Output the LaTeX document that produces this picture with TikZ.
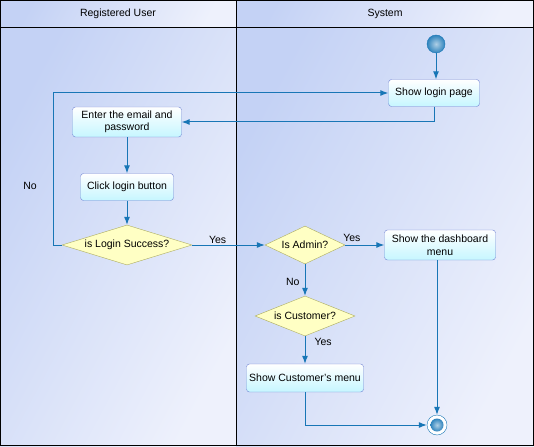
\documentclass[tikz,border=0pt]{standalone}
\usepackage{fontspec}
\setmainfont{Liberation Sans}
\usetikzlibrary{arrows.meta,positioning,shapes.geometric}

\definecolor{flowblue}{RGB}{24,118,182}
\definecolor{boxline}{RGB}{112,132,212}
\definecolor{boxfill}{RGB}{198,246,255}
\definecolor{decfill}{RGB}{255,255,196}
\definecolor{decline}{RGB}{172,172,96}
\definecolor{laneA}{RGB}{196,210,245}
\definecolor{laneB}{RGB}{238,241,252}

\tikzset{
  every node/.style={font=\fontsize{10.5}{12.5}\selectfont},
  activity/.style={draw=boxline,rounded corners=3pt,top color=white,bottom color=boxfill,
                   align=center,inner sep=2pt},
  decision/.style={diamond,draw=decline,fill=decfill,inner sep=0pt},
  ball/.style={circle,shading=radial,inner color=flowblue!35!white,outer color=flowblue!90,inner sep=0pt},
  startstate/.style={ball,draw=flowblue,minimum size=18pt},
  endouter/.style={circle,draw=flowblue,fill=white,minimum size=20pt,inner sep=0pt},
  endinner/.style={ball,minimum size=13pt},
  flow/.style={->,draw=flowblue,line width=1pt},
  lbl/.style={inner sep=1pt},
  lane/.style={left color=laneA,right color=laneB,shading angle=62},
}

\begin{document}
\begin{tikzpicture}[x=1pt,y=-1pt,>={Latex[length=8pt,width=6pt]},node distance=60pt,on grid]
\useasboundingbox (0,0) rectangle (534,446);
% swimlanes
\shade[lane] (0,0) rectangle (236,28);
\shade[lane] (236,0) rectangle (534,28);
\shade[lane] (0,28) rectangle (236,446);
\shade[lane] (236,28) rectangle (534,446);
\draw[line width=1pt] (0.5,0.5) rectangle (533.5,445.5);
\draw[line width=1pt] (0,28) -- (534,28) (236,0) -- (236,446);
\node (LaneUser) at (118,14) {Registered User};
\node (LaneSys)  at (385,14) {System};

\node[startstate]                              (Start)  at (436,44) {};
\node[activity,minimum width=91pt,minimum height=27pt] (Login) at (434,93) {Show login page};
\node[activity,minimum width=109pt,minimum height=30pt] (Email) at (127,122) {Enter the email and\\password};
\node[activity,minimum width=93pt,minimum height=27pt]  (Click) [below=65pt of Email] {Click login button};
\node[decision,aspect=3.25,minimum width=130pt,minimum height=40pt] (Success) [below=123pt of Email] {is Login Success?};
\node[decision,aspect=2.1,minimum width=80pt,minimum height=38pt]  (Admin) [right=178pt of Success] {Is Admin?};
\node[activity,minimum width=111pt,minimum height=30pt] (Dash) [right=135pt of Admin] {Show the dashboard\\menu};
\node[decision,aspect=2.5,minimum width=100pt,minimum height=40pt] (Customer) [below=71pt of Admin] {is Customer?};
\node[activity,minimum width=117pt,minimum height=28pt] (CustMenu) [below=62pt of Customer] {Show Customer's menu};
\node[endouter]                                (End) at (437,425) {};
\node[endinner]                                (EndDot) at (End) {};

\draw[flow] (Start) -- (Start |- Login.north);
\draw[flow] (Login.south) |- (Email.east);
\draw[flow] (Email) -- (Click);
\draw[flow] (Click) -- (Success);
\draw[flow] (Success.west) -- ++(-8,0) |- (Login.west);
\node[lbl] (NoLogin) at (30,186) {No};
\draw[flow] (Success.east) -- node[lbl,pos=0.35,above] (YesLogin) {Yes} (Admin.west);
\draw[flow] (Admin.east) -- node[lbl,pos=0.17,above=2pt] (YesAdmin) {Yes} (Dash.west);
\draw[flow] (Admin.south) -- node[lbl,pos=0.55,left=4pt] (NoAdmin) {No} (Customer.north);
\draw[flow] (Customer.south) -- node[lbl,pos=0.2,right=8pt] (YesCust) {Yes} (CustMenu.north);
\draw[flow] (CustMenu.south) |- (End.west);
\draw[flow] (End |- Dash.south) -- (End.north);
\end{tikzpicture}
\end{document}
